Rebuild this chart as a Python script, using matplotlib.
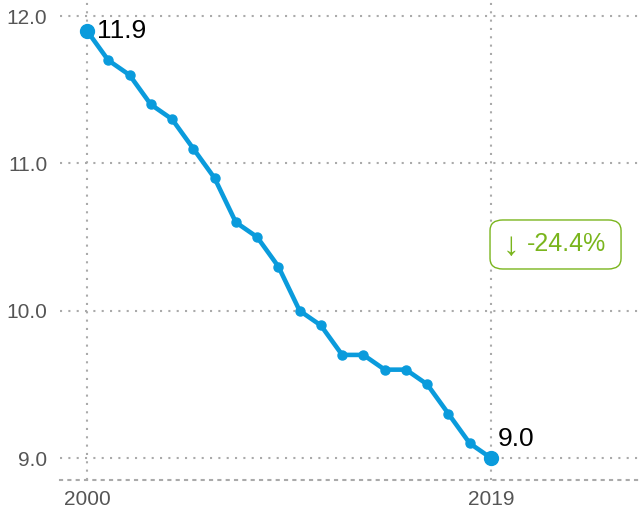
import matplotlib
matplotlib.use("Agg")
from matplotlib import pyplot as plt
from matplotlib.patches import FancyBboxPatch

years = list(range(2000, 2020))
values = [11.9, 11.7, 11.6, 11.4, 11.3, 11.1, 10.9, 10.6, 10.5, 10.3,
          10.0, 9.9, 9.7, 9.7, 9.6, 9.6, 9.5, 9.3, 9.1, 9.0]
y_ticks = [9.0, 10.0, 11.0, 12.0]
x_ticks = [2000, 2019]
change_label = "-24.4%"

line_color = "#0a9bdc"
green = "#7ab51d"
grid_color = "#aaaaaa"
dots = (0, (1, 3))

plt.rcParams['font.family'] = ['Liberation Sans', 'DejaVu Sans']

fig = plt.figure(figsize=(6.39, 5.12), dpi=100)
ax = fig.add_axes([60 / 639, 32 / 512, 579 / 639, 480 / 512])

ax.plot(years, values, color=line_color, linewidth=3.3, marker='o',
        markersize=6.5, zorder=3, solid_capstyle='round')
ax.plot([years[0], years[-1]], [values[0], values[-1]], linestyle='none',
        marker='o', markersize=10, color=line_color, zorder=4)

ax.set_xlim(1998.73, 2025.96)
ax.set_ylim(8.851, 12.109)
ax.set_xticks(x_ticks)
ax.set_yticks(y_ticks)
ax.set_xticklabels([str(y) for y in x_ticks])
ax.set_yticklabels([f"{v:.1f}" for v in y_ticks])
ax.tick_params(length=0, labelsize=15, labelcolor='#555555')
ax.tick_params(axis='y', pad=9)
ax.tick_params(axis='x', pad=7)

ax.grid(True, color=grid_color, linestyle=dots, linewidth=1.5)
for side in ['top', 'right', 'left']:
    ax.spines[side].set_visible(False)
ax.spines['bottom'].set_linestyle(dots)
ax.spines['bottom'].set_color(grid_color)
ax.spines['bottom'].set_linewidth(1.5)

ax.annotate(f"{values[0]:.1f}", (years[0], values[0]), xytext=(7, 0),
            textcoords='offset points', fontsize=19, va='center', ha='left')
ax.annotate(f"{values[-1]:.1f}", (years[-1], values[-1]), xytext=(5, 14),
            textcoords='offset points', fontsize=19, va='center', ha='left')

# change badge
ax.add_patch(FancyBboxPatch((0.7427, 0.4396), 0.2263, 0.1021,
                            boxstyle='round,pad=0,rounding_size=0.022',
                            transform=ax.transAxes, facecolor='white',
                            edgecolor=green, linewidth=1, zorder=5))
ax.text(0.779, 0.487, "↓", transform=ax.transAxes, fontsize=24,
        color=green, ha='center', va='center', zorder=6)
ax.text(0.8066, 0.4917, change_label, transform=ax.transAxes, fontsize=18,
        color=green, ha='left', va='center', zorder=6)

fig.savefig('out.png', dpi=100)
